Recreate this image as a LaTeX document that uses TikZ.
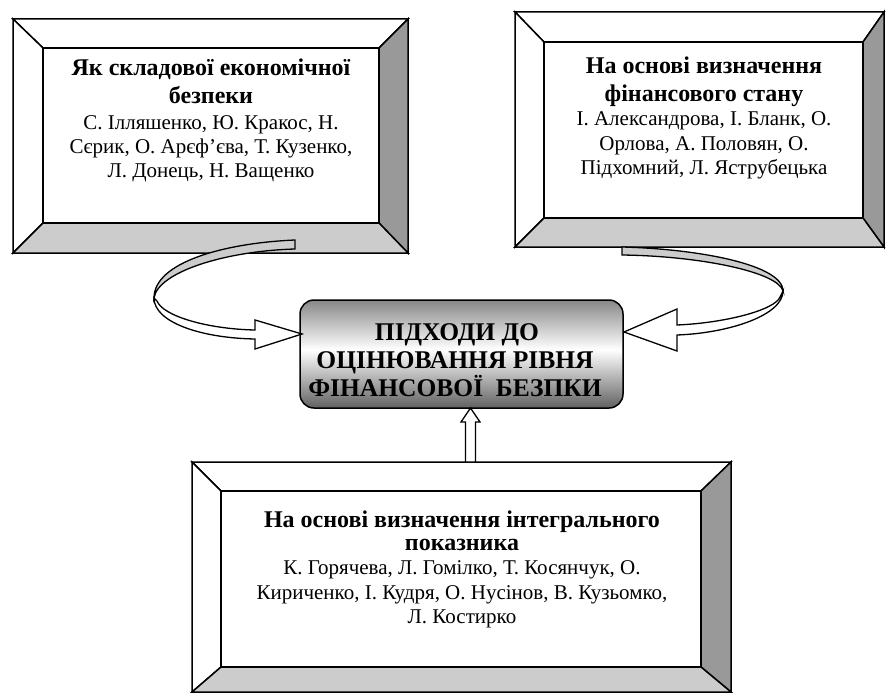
\documentclass[tikz,border=0pt]{standalone}
\usepackage{fontspec}
\setmainfont{Liberation Serif}
\definecolor{darkbev}{gray}{0.6}
\definecolor{lightbev}{gray}{0.8}
\pgfdeclareverticalshading{ctrshade}{100bp}{color(0bp)=(black!62); color(25bp)=(black!62); color(52bp)=(white); color(75bp)=(black!47); color(100bp)=(black!47)}
\newcommand{\bevelbox}[8]{%
  \filldraw[bev,fill=white] (#1,#2) -- (#3,#2) -- (#7,#6) -- (#5,#6) -- cycle;
  \filldraw[bev,fill=white] (#1,#2) -- (#5,#6) -- (#5,#8) -- (#1,#4) -- cycle;
  \filldraw[bev,fill=darkbev] (#3,#2) -- (#3,#4) -- (#7,#8) -- (#7,#6) -- cycle;
  \filldraw[bev,fill=lightbev] (#1,#4) -- (#5,#8) -- (#7,#8) -- (#3,#4) -- cycle;
  \filldraw[bev,fill=white] (#5,#6) rectangle (#7,#8);
}
\begin{document}
\begin{tikzpicture}[x=1pt,y=-1pt,
  bev/.style={draw=black,line width=1.5pt,line join=miter},
  arr/.style={draw=black,line width=1.3pt,line join=miter},
  hd/.style={inner sep=0pt,anchor=base,font=\fontsize{24}{27}\selectfont\bfseries},
  nm/.style={inner sep=0pt,anchor=base,font=\fontsize{21}{24}\selectfont},
  tt/.style={inner sep=0pt,anchor=base,font=\fontsize{25.5}{28}\selectfont\bfseries}]
\useasboundingbox (0,0) rectangle (886,693);
\bevelbox{13}{19}{408}{253}{43}{48}{379}{223}
\bevelbox{515}{12}{884}{247}{544}{42}{863}{218}
\bevelbox{192}{462}{731}{692}{221}{491}{701}{667}

% top-left box text
\node[hd] (tl1) at (211,76) {Як складової економічної};
\node[hd] (tl2) at (211,103) {безпеки};
\node[nm] (tl3) at (211,129) {С. Ілляшенко, Ю. Кракос, Н.};
\node[nm] (tl4) at (211,153) {Сєрик, О. Арєф’єва, Т. Кузенко,};
\node[nm] (tl5) at (211,177) {Л. Донець, Н. Ващенко};

% top-right box text
\node[hd] (tr1) at (704,74) {На основі визначення};
\node[hd] (tr2) at (704,101) {фінансового стану};
\node[nm] (tr3) at (704,125) {І. Александрова, І. Бланк, О.};
\node[nm] (tr4) at (704,150) {Орлова, А. Половян, О.};
\node[nm] (tr5) at (704,174) {Підхомний, Л. Яструбецька};

% bottom box text
\node[hd] (bt1) at (462,527) {На основі визначення інтегрального};
\node[hd] (bt2) at (462,550) {показника};
\node[nm] (bt3) at (462,574) {К. Горячева, Л. Гомілко, Т. Косянчук, О.};
\node[nm] (bt4) at (462,599) {Кириченко, І. Кудря, О. Нусінов, В. Кузьомко,};
\node[nm] (bt5) at (462,623) {Л. Костирко};

% central box
\node[draw=black,line width=1.5pt,rounded corners=14pt,minimum width=323pt,minimum height=108pt,
  shade,shading=ctrshade,inner sep=0pt] (ctr) at (461.5,354) {};
\node[tt] (c1) at (457,340) {ПІДХОДИ ДО};
\node[tt] (c2) at (455,368) {ОЦІНЮВАННЯ РІВНЯ};
\node[tt] (c3) at (455,396) {ФІНАНСОВОЇ\ \ БЕЗПКИ};

% left curved arrow
\filldraw[arr,fill=lightbev] (295,240) .. controls (225,243) and (154,262) .. (154,298)
  .. controls (158,272) and (225,251) .. (295,249) -- cycle;
\filldraw[arr,fill=white] (154,298) .. controls (154,322) and (200,338) .. (255,339)
  -- (255,349) -- (302,334) -- (255,320) -- (255,330)
  .. controls (207,329) and (163,316) .. (157,301) -- cycle;

% right curved arrow
\filldraw[arr,fill=lightbev] (622,247) .. controls (700,249) and (783,265) .. (783,291)
  .. controls (778,272) and (700,256) .. (622,255) -- cycle;
\filldraw[arr,fill=white] (783,291) .. controls (783,315) and (730,333) .. (677,335)
  -- (677,351) -- (624,332) -- (677,309) -- (677,325)
  .. controls (725,323) and (775,310) .. (780,297) -- cycle;

% up arrow
\filldraw[arr,fill=white] (465.5,462) -- (465.5,422) -- (461,422) -- (470.5,408)
  -- (480,422) -- (475.5,422) -- (475.5,462) -- cycle;
\end{tikzpicture}
\end{document}
